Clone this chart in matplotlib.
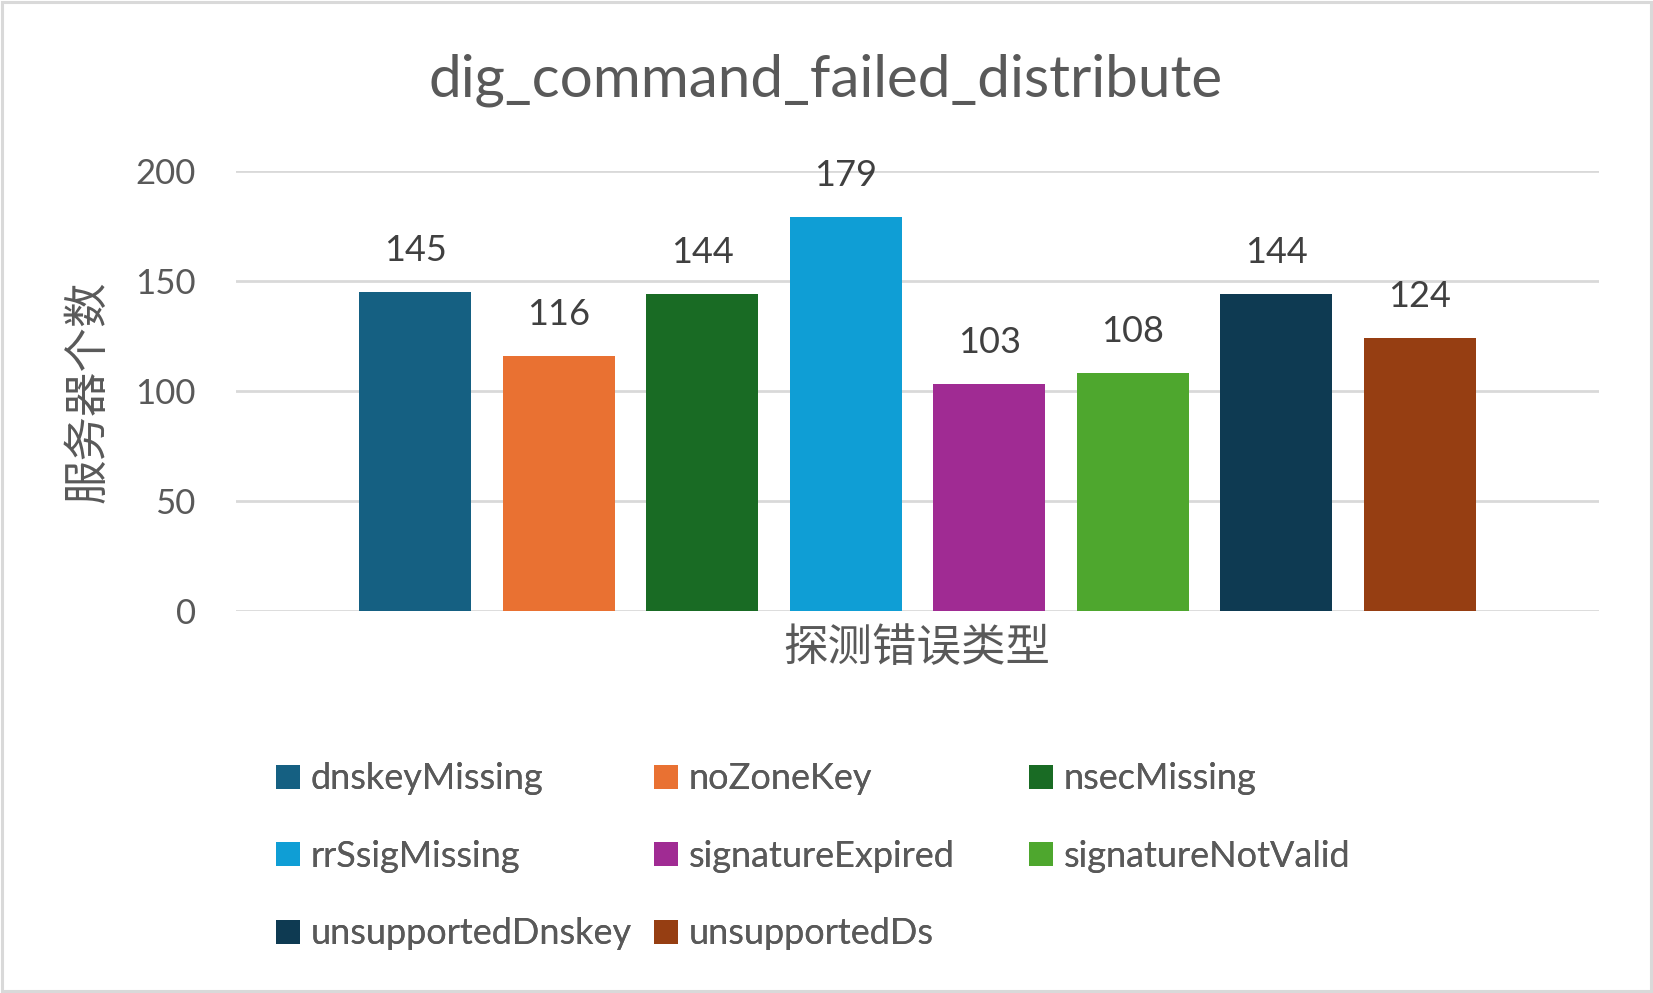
import matplotlib
matplotlib.use("Agg")
import matplotlib.pyplot as plt

# data
series = ["dnskeyMissing", "noZoneKey", "nsecMissing", "rrSsigMissing",
          "signatureExpired", "signatureNotValid", "unsupportedDnskey", "unsupportedDs"]
counts = [145, 116, 144, 179, 103, 108, 144, 124]
colors = ["#156082", "#E97132", "#196B24", "#0F9ED5",
          "#A02B93", "#4EA72E", "#0E3A52", "#963E12"]
yticks = [0, 50, 100, 150, 200]

title = "dig_command_failed_distribute"
xlabel = "探测错误类型"
ylabel = "服务器个数"

text_color = "#595959"
grid_color = "#D9D9D9"
plt.rcParams["font.family"] = ["Lato", "Noto Sans CJK SC", "DejaVu Sans"]

W, H = 1653, 993
fig = plt.figure(figsize=(W / 100, H / 100), dpi=100)

# chart border
fig.patches.append(plt.Rectangle((0.001, 0.002), 0.998, 0.996, transform=fig.transFigure,
                                 fill=False, edgecolor=grid_color, linewidth=2.2))

ax = fig.add_axes([236 / W, 1 - 611 / H, (1599 - 236) / W, (611 - 171) / H])

bars = []
for i, (name, val, col) in enumerate(zip(series, counts, colors)):
    b = ax.bar(i, val, width=0.78, color=col, label=name, zorder=3)
    bars.append(b)
    ax.annotate(str(val), (i, val), xytext=(0, 30), textcoords="offset points",
                ha="center", va="center", fontsize=26, color="#404040")

ax.set_xlim(-1.25, 8.25)
ax.set_ylim(0, 200)
ax.set_yticks(yticks)
ax.set_xticks([])
ax.grid(axis="y", color=grid_color, linewidth=2, zorder=0)
ax.set_axisbelow(True)
for s in ax.spines.values():
    s.set_visible(False)
ax.tick_params(axis="y", length=0, pad=29, labelsize=25, labelcolor=text_color)

fig.text(826 / W, 1 - 80 / H, title, ha="center", va="center", fontsize=42, color=text_color)
fig.text(917 / W, 1 - 648 / H, xlabel, ha="center", va="center", fontsize=32,
         color=text_color, family=["Noto Sans CJK SC"])
fig.text(87 / W, 1 - 392 / H, ylabel, ha="center", va="center", fontsize=32,
         color=text_color, rotation=90, family=["Noto Sans CJK SC"])

# legend laid out in three fixed columns like the reference
col_x = [273, 651, 1026]
handles = [b[0] for b in bars]
for c in range(3):
    idx = list(range(c, len(series), 3))
    leg = fig.legend([handles[i] for i in idx], [series[i] for i in idx],
                     loc="upper left", bbox_to_anchor=((col_x[c] - 11) / W, 1 - 748 / H),
                     frameon=False, fontsize=26, labelcolor=text_color,
                     handlelength=0.65, handleheight=0.65, handletextpad=0.3,
                     labelspacing=1.23, borderaxespad=0, borderpad=0.4)
    fig.add_artist(leg)

fig.savefig("out.png", dpi=100)
